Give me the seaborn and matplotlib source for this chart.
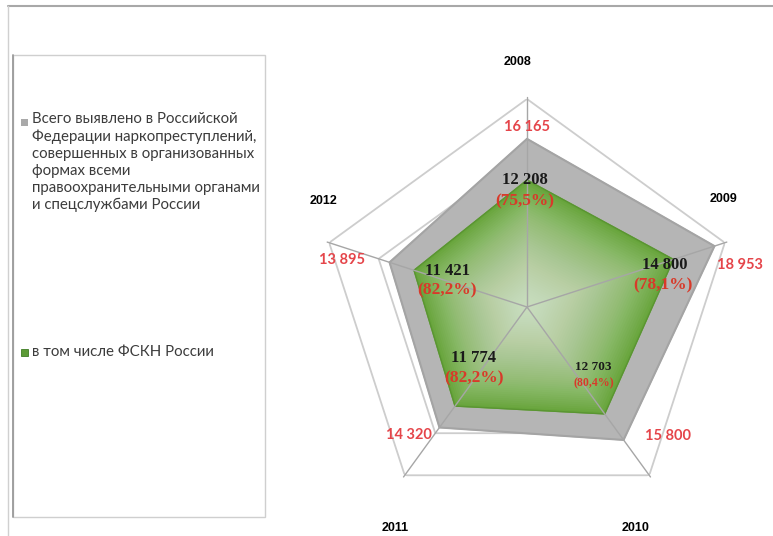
import numpy as np
import pandas as pd
import matplotlib
matplotlib.use("Agg")
import matplotlib.pyplot as plt
from matplotlib.patches import Rectangle
from matplotlib.lines import Line2D
import seaborn as sns

# ---------------- data ----------------
years = ["2008", "2009", "2010", "2011", "2012"]
total = [16165, 18953, 15800, 14320, 13895]      # всего выявлено
fskn = [12208, 14800, 12703, 11774, 11421]       # в том числе ФСКН
total_labels = ["16 165", "18 953", "15 800", "14 320", "13 895"]
fskn_labels = ["12 208", "14 800", "12 703", "11 774", "11 421"]
share_labels = ["(75,5%)", "(78,1%)", "(80,4%)", "(82,2%)", "(82,2%)"]
legend_labels = [
    "Всего выявлено в Российской\nФедерации наркопреступлений,\nсовершенных в организованных\n"
    "формах всеми\nправоохранительными органами\nи спецслужбами России",
    "в том числе ФСКН России",
]
r_max = 20000
ring_values = [5000, 10000, 15000, 20000]

# ---------------- style ----------------
sns.set_theme(style="white")
plt.rcParams["font.family"] = ["Lato", "DejaVu Sans"]

W, H = 773, 536
fig = plt.figure(figsize=(W / 100, H / 100), dpi=100)
fig.patch.set_facecolor("white")


def fx(x):
    return x / W


def fy(y):
    return 1 - y / H


# frame lines of the slide
fig.add_artist(Line2D([fx(8), fx(773)], [fy(6), fy(6)], color="#a8a8a8", lw=1.5))
fig.add_artist(Line2D([fx(8), fx(8)], [fy(6), fy(536)], color="#d0d0d0", lw=1.0))
# legend box
fig.add_artist(Rectangle((fx(13), fy(517)), fx(265) - fx(13), fy(55) - fy(517),
                         transform=fig.transFigure, facecolor="white",
                         edgecolor="#cfcfcf", lw=1.0))
fig.add_artist(Line2D([fx(13), fx(13)], [fy(55), fy(517)], color="#9a9a9a", lw=1.3))

# legend entries
fig.add_artist(Rectangle((fx(21), fy(126)), 7 / W, 7 / H, transform=fig.transFigure,
                         facecolor="#a9a9a9", edgecolor="none"))
fig.text(fx(32), fy(112), legend_labels[0], ha="left", va="top", fontsize=10.8,
         color="#3c3c3c", linespacing=1.28)
fig.add_artist(Rectangle((fx(21), fy(356)), 7 / W, 7 / H, transform=fig.transFigure,
                         facecolor="#5c9b36", edgecolor="#3f7d23", lw=0.6))
fig.text(fx(32), fy(352), legend_labels[1], ha="left", va="center", fontsize=10.8,
         color="#3c3c3c")

# ---------------- radar ----------------
cx, cy, R = 527, 307, 208
ax = fig.add_axes([fx(cx - R), fy(cy + R), 2 * R / W, 2 * R / H], projection="polar")
ax.set_theta_zero_location("N")
ax.set_theta_direction(-1)
ax.patch.set_alpha(0)

theta = np.linspace(0, 2 * np.pi, len(years), endpoint=False)
theta_c = np.append(theta, theta[0])
total_c = np.append(total, total[0])
fskn_c = np.append(fskn, fskn[0])

# pentagon grid rings
for v in ring_values:
    ax.plot(theta_c, [v] * len(theta_c), color="#cdcdcd", lw=1.3, zorder=1)

# gray series
ax.fill(theta_c, total_c, color="#b5b5b5", zorder=2)
df_total = pd.DataFrame({"theta": theta_c, "value": total_c})
sns.lineplot(data=df_total, x="theta", y="value", sort=False, estimator=None,
             color="#a4a4a4", lw=1.5, ax=ax, zorder=3)

# green series with a soft radial highlight
ax.fill(theta_c, fskn_c, color="#68a53c", zorder=4)
for k in np.linspace(0.98, 0.03, 48):
    ax.fill(theta_c, fskn_c * k, color="white", alpha=0.026, lw=0, zorder=5)
df_fskn = pd.DataFrame({"theta": theta_c, "value": fskn_c})
sns.lineplot(data=df_fskn, x="theta", y="value", sort=False, estimator=None,
             color="#5a9532", lw=1.0, ax=ax, zorder=6)

# spokes
for t in theta:
    ax.plot([t, t], [0, r_max * 1.01], color="#a6a6a6", lw=1.0, zorder=7, clip_on=False)

ax.set_ylim(0, r_max)
ax.set_xticks([])
ax.set_yticks([])
ax.grid(False)
ax.spines["polar"].set_visible(False)
ax.set_xlabel("")
ax.set_ylabel("")

# value labels
total_off = [(0, 12), (26, -19), (44, 4), (-31, -8), (-48, 2)]
for t, v, lab, off in zip(theta, total, total_labels, total_off):
    ax.annotate(lab, xy=(t, v), xytext=off, textcoords="offset pixels",
                ha="center", va="center", fontsize=10.5, fontweight="bold",
                color="#e5454a", zorder=10, annotation_clip=False)

fskn_off = [(-2, 0), (-9, -6), (-11, 47), (18, 48), (33, -1)]
share_off = [(-2, -21), (-10, -26), (-11, 31), (19, 28), (33, -20)]
sizes = [12, 12, 9.5, 12, 12]
psizes = [12.5, 12.5, 8.5, 12.5, 12.5]
for i, t in enumerate(theta):
    ax.annotate(fskn_labels[i], xy=(t, fskn[i]), xytext=fskn_off[i],
                textcoords="offset pixels", ha="center", va="center",
                fontsize=sizes[i], fontweight="bold", color="#1a1a1a",
                family=["Liberation Serif", "DejaVu Serif"], zorder=10,
                annotation_clip=False)
    ax.annotate(share_labels[i], xy=(t, fskn[i]), xytext=share_off[i],
                textcoords="offset pixels", ha="center", va="center",
                fontsize=psizes[i], fontweight="bold", color="#d83a2a",
                family=["Liberation Serif", "DejaVu Serif"], zorder=10,
                annotation_clip=False)

# year (category) labels
year_pos = [(518, 62), (724, 199), (636, 528), (395, 528), (324, 201)]
for y_lab, (px, py) in zip(years, year_pos):
    fig.text(fx(px), fy(py), y_lab, ha="center", va="center", fontsize=9,
             fontweight="bold", color="black",
             family=["Liberation Sans", "DejaVu Sans"])

fig.savefig("out.png", dpi=100)
